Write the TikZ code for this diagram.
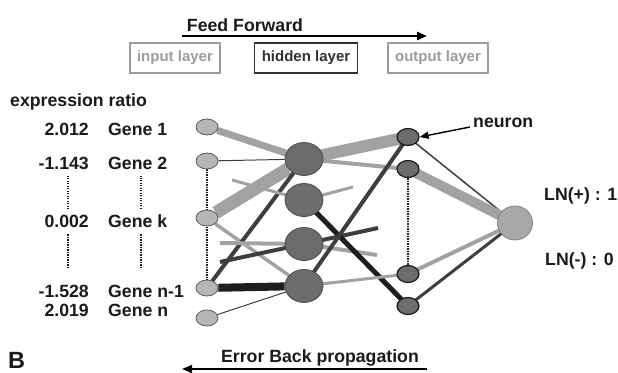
\documentclass[tikz,border=0pt]{standalone}
\usepackage{fontspec}
\setmainfont{Liberation Sans}
\usetikzlibrary{shapes.geometric,arrows.meta,backgrounds}

\definecolor{wlightc}{HTML}{A2A2A2}
\definecolor{wdarkc}{HTML}{3E3E3E}
\definecolor{wblackc}{HTML}{1E1E1E}
\definecolor{inputc}{HTML}{B6B6B6}
\definecolor{hiddenc}{HTML}{6C6C6C}
\definecolor{outputc}{HTML}{A8A8A8}
\definecolor{boxgray}{HTML}{9C9C9C}
\definecolor{textc}{HTML}{1A1A1A}

\begin{document}
\begin{tikzpicture}[x=1pt, y=-1pt,
    lbl/.style={font=\fontsize{17.7}{20}\selectfont\bfseries, text=textc, inner sep=0pt},
    layerbox/.style={draw=#1, text=#1, line width=1.3pt, inner xsep=7pt, minimum height=30pt, font=\fontsize{15}{18}\selectfont\bfseries},
    innode/.style={ellipse, draw=black!65, fill=inputc, line width=0.8pt, minimum width=22pt, minimum height=16pt, inner sep=0pt},
    hidnode/.style={ellipse, draw=black!70, fill=hiddenc, line width=0.8pt, minimum width=38pt, minimum height=33pt, inner sep=0pt},
    neunode/.style={ellipse, draw=black!90, fill=hiddenc, line width=1.2pt, minimum width=22pt, minimum height=17pt, inner sep=0pt},
    outnode/.style={ellipse, draw=black!50, fill=outputc, line width=0.8pt, minimum width=35pt, minimum height=34pt, inner sep=0pt},
    wlight/.style={draw=wlightc, line width=#1},
    wdark/.style={draw=wdarkc, line width=#1},
    wblack/.style={draw=wblackc, line width=#1},
    vdots/.style={draw=textc, line width=2pt, dash pattern=on 1.4pt off 1.1pt},
    flow/.style={draw=black, line width=#1, -{Triangle[length=10pt,width=8pt]}},
]
    \useasboundingbox (0,0) rectangle (618,372);

    % ==========================================
    % CABECERA: Feed Forward y capas
    % ==========================================
    \node[lbl, anchor=base] (ff) at (245,31) {Feed Forward};
    \coordinate (ffstart) at (182,36);
    \coordinate (ffend) at (427,36);
    \draw[flow=2.6pt] (ffstart) -- (ffend);

    \node[layerbox=boxgray] (inbox) at (175,58) {input layer};
    \node[layerbox=black!80] (hidbox) at (306,58) {hidden layer};
    \node[layerbox=boxgray] (outbox) at (438,58) {output layer};

    % ==========================================
    % GENES: ratio de expresion
    % ==========================================
    \node[lbl, anchor=base west] (ratio) at (10,106) {expression ratio};

    \node[lbl, anchor=base east] (v1) at (89,135) {2.012};
    \node[lbl, anchor=base west] (g1) at (108,135) {Gene 1};
    \node[lbl, anchor=base east] (v2) at (89,169) {-1.143};
    \node[lbl, anchor=base west] (g2) at (108,169) {Gene 2};
    \node[lbl, anchor=base east] (vk) at (89,227) {0.002};
    \node[lbl, anchor=base west] (gk) at (108,227) {Gene k};
    \node[lbl, anchor=base east] (vn1) at (89,297) {-1.528};
    \node[lbl, anchor=base west] (gn1) at (108,297) {Gene n-1};
    \node[lbl, anchor=base east] (vn) at (89,316) {2.019};
    \node[lbl, anchor=base west] (gn) at (108,316) {Gene n};

    % puntos suspensivos
    \draw[vdots] (vk.north) ++(1,-5) -- ++(0,-33);
    \draw[vdots] (vk.south) ++(1,7) -- ++(0,34);
    \draw[vdots] (gk.north) ++(3,-5) -- ++(0,-33);
    \draw[vdots] (gk.south) ++(3,7) -- ++(0,34);

    % ==========================================
    % RED: neuronas
    % ==========================================
    % Capa de entrada
    \node[innode] (in1) at (207,127) {};
    \node[innode] (in2) at (207,161) {};
    \node[innode] (ink) at (207,218) {};
    \node[innode] (inn1) at (207,288) {};
    \node[innode] (inn) at (207,318) {};
    % Capa oculta
    \node[hidnode] (h1) at (304,159) {};
    \node[hidnode] (h2) at (304,200) {};
    \node[hidnode] (h3) at (304,244) {};
    \node[hidnode] (h4) at (304,286) {};
    % Neuronas
    \node[neunode] (n1) at (408,137) {};
    \node[neunode] (n2) at (408,169) {};
    \node[neunode] (n3) at (408,274) {};
    \node[neunode] (n4) at (408,306) {};
    % Salida
    \node[outnode] (out) at (515,223) {};

    % Extremos sueltos
    \coordinate (s1a) at (232,180);
    \coordinate (s1b) at (353,187);
    \coordinate (s2a) at (220,243);
    \coordinate (s2b) at (377,255);
    \coordinate (s3a) at (220,262);
    \coordinate (s3b) at (378,228);

    \begin{pgfonlayer}{background}
        % entrada -> oculta
        \draw[wlight=7pt] (in1) -- (h1);
        \draw[wdark=1pt] (in2) -- (h1);
        \draw[wlight=13pt] (ink) -- (h1);
        \draw[wlight=3.5pt] (ink) -- (h4);
        \draw[wblack=8pt] (inn1) -- (h4);
        \draw[wdark=4pt] (inn1.center) -- (h1.center);
        \draw[wdark=1pt] (inn) -- (h4);
        \draw[wlight=3pt] (s1a) -- (h2.center) -- (s1b);
        \draw[wlight=4pt] (s2a) -- (h3.center) -- (s2b);
        \draw[wdark=4pt] (s3a) -- (h3.center) -- (s3b);
        % oculta -> neuronas
        \draw[wlight=12pt] (h1.center) -- (n1.center);
        \draw[wlight=4pt] (h1.center) -- (n2.center);
        \draw[wblack=5pt] (h2.center) -- (n4.center);
        \draw[wdark=4pt] (h4.center) -- (n1.center);
        \draw[wlight=3pt] (h4.center) -- (n3.center);
        % neuronas -> salida
        \draw[wdark=1.5pt] (n1.center) -- (out.center);
        \draw[wlight=10pt] (n2.center) -- (out.center);
        \draw[wlight=4pt] (n3.center) -- (out.center);
        \draw[wdark=3pt] (n4.center) -- (out.center);
        % puntos entre nodos
        \draw[vdots] (in2) -- (inn1);
        \draw[vdots] (n2) -- (n3);
    \end{pgfonlayer}

    \node[lbl, anchor=base west] (neuronlbl) at (473,127) {neuron};
    \draw[-{Triangle[length=9pt,width=7pt]}, line width=1.4pt] ([xshift=-3pt]neuronlbl.base west) -- (n1.east);

    \node[lbl, anchor=base west] (lnpos) at (544,200) {LN(+) : 1};
    \node[lbl, anchor=base west] (lnneg) at (545,265) {LN(-) : 0};

    % ==========================================
    % PIE: Error Back propagation
    % ==========================================
    \node[anchor=base west, inner sep=0pt, font=\fontsize{23.5}{26}\selectfont\bfseries, text=textc] (blbl) at (8,368) {B};
    \node[lbl, anchor=base] (ebp) at (320,362) {Error Back propagation};
    \coordinate (bpstart) at (427,369);
    \coordinate (bpend) at (182,369);
    \draw[flow=1.5pt] (bpstart) -- (bpend);

\end{tikzpicture}
\end{document}
